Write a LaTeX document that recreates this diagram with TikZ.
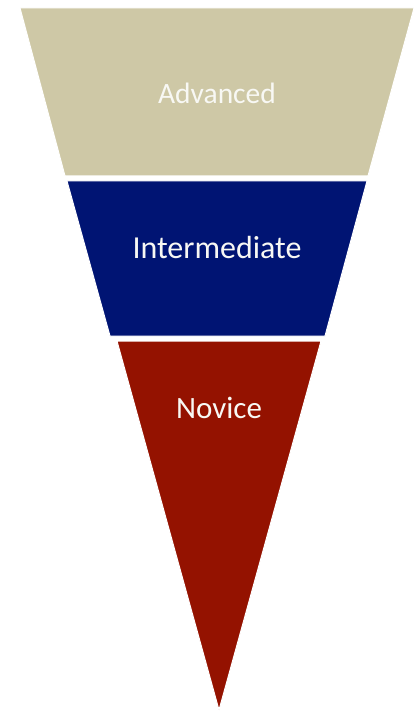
\documentclass[tikz,border=0pt]{standalone}
\usepackage{fontspec}
\setmainfont{Carlito}
\definecolor{tierTan}{HTML}{CEC8A6}
\definecolor{tierNavy}{HTML}{001473}
\definecolor{tierRed}{HTML}{941200}
\definecolor{labelWhite}{HTML}{F8F8F4}
\begin{document}
\begin{tikzpicture}[x=1pt,y=-1pt,
  tier/.style={draw=white,line width=1pt,line join=miter},
  tierlabel/.style={text=labelWhite,inner sep=0pt}]
\useasboundingbox (0,0) rectangle (414,711);
% funnel tiers, widest on top
\fill[tierTan,tier] (20,8) -- (414,8) -- (368,176) -- (65,176) -- cycle;
\fill[tierNavy,tier] (67,181) -- (367,181) -- (325,336) -- (110,336) -- cycle;
\fill[tierRed,tier] (117,341) -- (321,341) -- (219,710) -- cycle;
% tier labels
\node[tierlabel,font=\fontsize{29.5}{35}\selectfont] (adv) at (217,93) {Advanced};
\node[tierlabel,font=\fontsize{32}{38}\selectfont] (mid) at (217,248) {Intermediate};
\node[tierlabel,font=\fontsize{31}{37}\selectfont] (nov) at (219,408) {Novice};
\end{tikzpicture}
\end{document}
